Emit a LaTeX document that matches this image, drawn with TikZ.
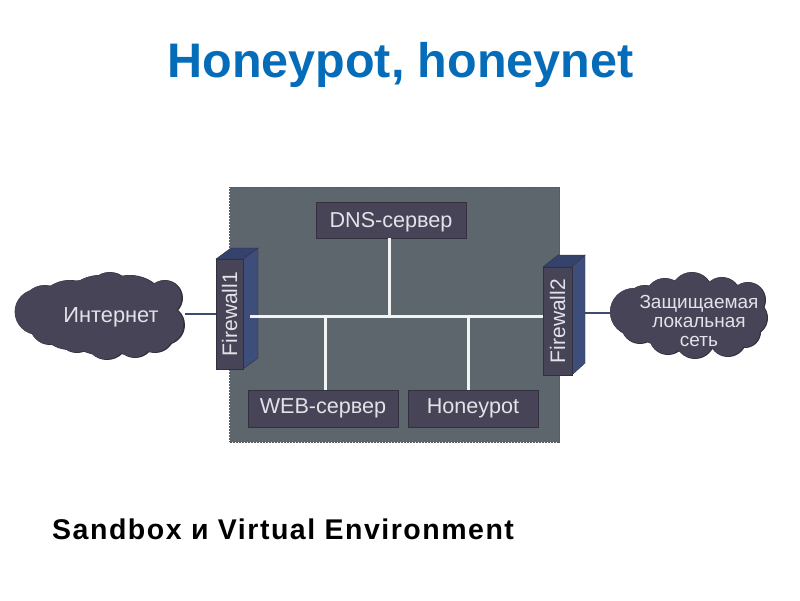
\documentclass[tikz,border=0pt]{standalone}
\usepackage{fontspec}
\setmainfont{Liberation Sans}
\definecolor{panelc}{RGB}{92,102,108}
\definecolor{boxc}{RGB}{72,68,88}
\definecolor{edgec}{RGB}{50,48,62}
\definecolor{sidec}{RGB}{62,78,122}
\definecolor{topc}{RGB}{52,66,108}
\definecolor{titlec}{RGB}{4,108,184}
\definecolor{labelc}{RGB}{226,226,232}
\definecolor{linkc}{RGB}{60,76,110}
\tikzset{
  x=1pt,y=-1pt,
  srv/.style={draw=edgec,line width=0.6pt,fill=boxc,text=labelc,font=\fontsize{21.6}{24}\selectfont,inner sep=0pt,anchor=center},
  fwfront/.style={draw=edgec,line width=0.6pt,fill=boxc,text=labelc,inner sep=0pt},
  fwtext/.style={text=labelc,font=\fontsize{21}{24}\selectfont,rotate=90,inner sep=0pt},
  bus/.style={draw=white!92!panelc,line width=3pt},
  link/.style={draw=linkc,line width=1.6pt},
  cloudtext/.style={text=labelc,align=center,inner sep=0pt}
}
\begin{document}
\begin{tikzpicture}
\useasboundingbox (0,0) rectangle (800,600);
\fill[white] (0,0) rectangle (800,600);
\node[font=\bfseries\fontsize{48.5}{54}\selectfont,text=titlec,inner sep=0pt,anchor=base] (title) at (400.5,77.5) {Honeypot, honeynet};
\node[font=\bfseries\fontsize{28.5}{32}\selectfont\addfontfeature{LetterSpace=5.3},text=black,inner sep=0pt,anchor=base west] (sub) at (52,539.5) {Sandbox и Virtual Environment};
% panel
\node[draw=black!65,densely dotted,line width=0.5pt,fill=panelc,minimum width=330pt,minimum height=255pt,inner sep=0pt] (panel) at (394.5,314.5) {};
% servers
\node[srv,minimum width=150pt,minimum height=36pt,text depth=0pt] (dns) at (391,220) {\raisebox{-0.8pt}{DNS-сервер}};
\node[srv,minimum width=150pt,minimum height=37pt] (web) at (323,408.5) {\raisebox{-0.8pt}{WEB-сервер}};
\node[srv,minimum width=130pt,minimum height=37pt] (hp) at (473,408.5) {\raisebox{-0.8pt}{Honeypot}};
% firewall 1
\fill[topc,draw=edgec,line width=0.4pt] (216,259) -- (231,248) -- (258,248) -- (243,259) -- cycle;
\fill[sidec,draw=edgec,line width=0.4pt] (243,259) -- (258,248) -- (258,358) -- (243,369) -- cycle;
\node[fwfront,minimum width=27pt,minimum height=110pt] (fw1) at (229.5,314) {};
\node[fwtext] (fw1t) at (fw1.center) {Firewall1};
% firewall 2
\fill[topc,draw=edgec,line width=0.4pt] (543,267) -- (558,255) -- (585,255) -- (572,267) -- cycle;
\fill[sidec,draw=edgec,line width=0.4pt] (572,267) -- (585,255) -- (585,363) -- (572,375) -- cycle;
\node[fwfront,minimum width=29pt,minimum height=108pt] (fw2) at (557.5,321) {};
\node[fwtext] (fw2t) at (fw2.center) {Firewall2};
% bus
\coordinate (busL) at (250,316);
\coordinate (busR) at (fw2.west |- busL);
\coordinate (dnsfoot) at ([xshift=-1.5pt]dns.south);
\coordinate (jd) at (dnsfoot |- busL);
\coordinate (jw) at (325,316);
\coordinate (jh) at (468.5,316);
\draw[bus] (busL) -- (busR);
\draw[bus] (dnsfoot) -- (jd);
\draw[bus] (jw) -- (jw |- web.north);
\draw[bus] (jh) -- (jh |- hp.north);
% cloud 1
\def\cloudA{38/312/23,45/308/23,62/305/20,82/302/22,110/294/22,140/298/20,165/298/18,165/325/20,155/333/20,135/338/20,107/338/22,77/333/20,50/325/20,100/315/40,130/315/40,70/315/35}
\foreach \x/\y/\r in \cloudA {\fill[edgec] (\x,\y) circle[radius=\r];}
\foreach \x/\y/\r in \cloudA {\fill[boxc] (\x-1,\y-0.3) circle[radius=\r-0.6];}
\node[minimum width=170pt,minimum height=88pt,inner sep=0pt] (inet) at (100,316) {};
\node[cloudtext,font=\fontsize{21.8}{24}\selectfont] (inett) at (111,317) {Интернет};
% cloud 2
\def\cloudB{634/312/24,645/305/20,665/298/20,692/293/21,722/296/19,748/300/18,750/318/18,745/332/16,728/338/19,695/339/20,668/336/19,640/325/19,690/315/38,720/315/35,660/315/30}
\foreach \x/\y/\r in \cloudB {\fill[edgec] (\x,\y) circle[radius=\r];}
\foreach \x/\y/\r in \cloudB {\fill[boxc] (\x-0.6,\y-0.3) circle[radius=\r-0.6];}
\node[minimum width=158pt,minimum height=86pt,inner sep=0pt] (lan) at (689,315) {};
\node[cloudtext,font=\fontsize{19}{19}\selectfont] (lant) at (699,321) {Защищаемая\\локальная\\сеть};
% links
\draw[link] (inet.east |- 0,314) -- (fw1.west |- 0,314);
\draw[link] (585,313) -- (lan.west |- 0,313);
\end{tikzpicture}
\end{document}
